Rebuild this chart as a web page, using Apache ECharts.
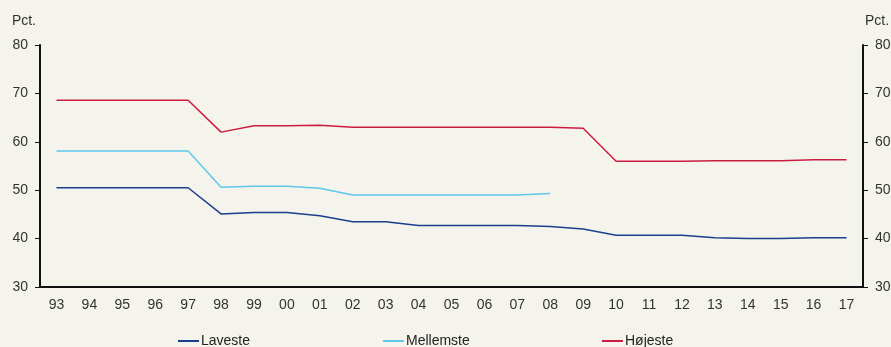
<!DOCTYPE html>
<html>
<head>
<meta charset="utf-8">
<script src="https://cdn.jsdelivr.net/npm/echarts@6/dist/echarts.min.js"></script>
<style>
  html, body { margin: 0; padding: 0; background: #f5f4ec; }
  #chart { width: 891px; height: 347px; }
</style>
</head>
<body>
<div id="chart"></div>
<script>
var years = ['93', '94', '95', '96', '97', '98', '99', '00', '01', '02', '03', '04', '05',
             '06', '07', '08', '09', '10', '11', '12', '13', '14', '15', '16', '17'];
var laveste = [50.5, 50.5, 50.5, 50.5, 50.5, 45.1, 45.4, 45.4, 44.7, 43.5, 43.5, 42.7, 42.7,
               42.7, 42.7, 42.5, 42.0, 40.7, 40.7, 40.7, 40.2, 40.0, 40.0, 40.2, 40.2];
var mellemste = [58.1, 58.1, 58.1, 58.1, 58.1, 50.6, 50.8, 50.8, 50.4, 49.0, 49.0, 49.0, 49.0,
                 49.0, 49.0, 49.3, null, null, null, null, null, null, null, null, null];
var hojeste = [68.6, 68.6, 68.6, 68.6, 68.6, 62.0, 63.3, 63.3, 63.4, 63.0, 63.0, 63.0, 63.0,
               63.0, 63.0, 63.0, 62.8, 56.0, 56.0, 56.0, 56.1, 56.1, 56.1, 56.3, 56.3];

var chart = echarts.init(document.getElementById('chart'));
var font = 'Liberation Sans, Arial, sans-serif';
var axisText = {color: '#333', fontSize: 14, fontFamily: font};
var yAxisBase = {
    type: 'value', min: 30, max: 80, interval: 10,
    axisLine: {show: true, lineStyle: {color: '#111', width: 2}},
    axisTick: {show: true, length: 5, lineStyle: {color: '#111'}},
    splitLine: {show: false},
    axisLabel: Object.assign({margin: 12}, axisText),
    name: 'Pct.',
    nameGap: 17
};
function legendAt(left, name) {
    return {
        left: left, bottom: -6, data: [name], icon: 'rect', itemWidth: 21, itemHeight: 2, itemGap: 2,
        textStyle: {color: '#222', fontSize: 14, fontFamily: font, padding: [0, 0, 0, -3]}
    };
}
chart.setOption({
    backgroundColor: '#f5f4ec',
    animation: false,
    grid: {left: 40, right: 28, top: 45, bottom: 60, outerBoundsMode: 'none', containLabel: false},
    legend: [legendAt(173, 'Laveste'), legendAt(378, 'Mellemste'), legendAt(597, 'Højeste')],
    xAxis: {
        type: 'category',
        data: years,
        boundaryGap: true,
        axisLine: {lineStyle: {color: '#111', width: 2}},
        axisTick: {length: 5, lineStyle: {color: '#111'}},
        axisLabel: Object.assign({margin: 11}, axisText)
    },
    yAxis: [
        Object.assign({}, yAxisBase, {position: 'left',
            nameTextStyle: Object.assign({align: 'right', padding: [0, 4, 0, 0]}, axisText)}),
        Object.assign({}, yAxisBase, {position: 'right',
            nameTextStyle: Object.assign({align: 'left', padding: [0, 0, 0, 2]}, axisText)})
    ],
    series: [
        {name: 'Laveste', type: 'line', data: laveste, symbol: 'none', color: '#1a3f8c', lineStyle: {width: 1.5}},
        {name: 'Mellemste', type: 'line', data: mellemste, symbol: 'none', color: '#5cc8ea', lineStyle: {width: 1.5}},
        {name: 'Højeste', type: 'line', data: hojeste, symbol: 'none', color: '#cc1b40', lineStyle: {width: 1.5}}
    ]
});
</script>
</body>
</html>
